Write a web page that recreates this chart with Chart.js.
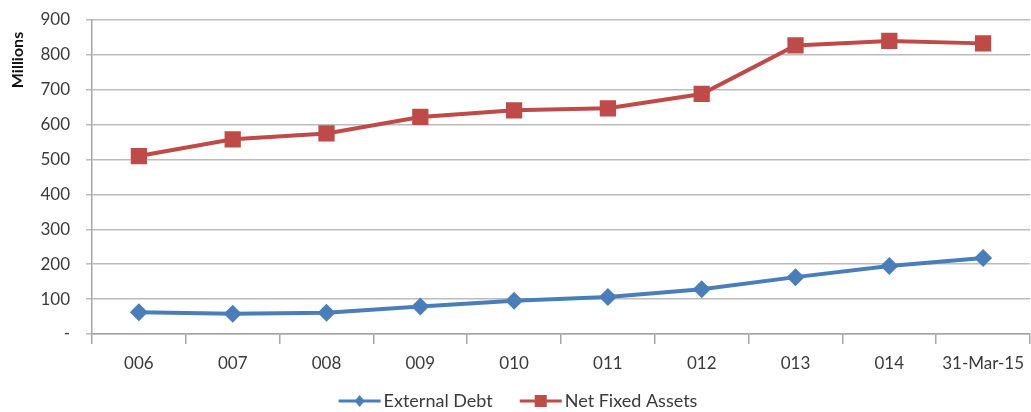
<!DOCTYPE html>
<html>
<head>
<meta charset="utf-8">
<script src="https://cdn.jsdelivr.net/npm/chart.js@4"></script>
<style>
  html, body { margin: 0; padding: 0; background: #fff; overflow: hidden; }
</style>
</head>
<body>
<canvas id="myChart" width="1031" height="412"></canvas>
<script>
const categories = ["006", "007", "008", "009", "010", "011", "012", "013", "014", "31-Mar-15"];
const externalDebt = [62, 58, 61, 79, 95, 106, 128, 163, 195, 218];
const netFixedAssets = [510, 558, 575, 622, 641, 647, 688, 827, 840, 833];
const yTicks = [0, 100, 200, 300, 400, 500, 600, 700, 800, 900];
const yTitle = "Millions";

const BLUE = "#4a7ebb";
const RED = "#be4b48";
const TEXT = "#3a3a3a";
const FONT = "Lato, 'Liberation Sans', sans-serif";

// excel-style legend under the plot + the axis title sitting at the top of the y axis
const excelDecor = {
    id: "excelDecor",
    afterDraw(chart) {
        const g = chart.ctx;
        g.save();
        g.font = "bold 16px " + FONT;
        g.fillStyle = "#111";
        g.textAlign = "center";
        g.textBaseline = "middle";
        g.translate(18, chart.chartArea.top + 40);
        g.rotate(-Math.PI / 2);
        g.fillText(yTitle, 0, 0);
        g.restore();

        const y = 401;
        const lineW = 42, gapText = 3, gapItem = 27;
        g.save();
        g.font = "18px " + FONT;
        g.textBaseline = "middle";
        const items = chart.data.datasets.map(ds => ({ ds, w: g.measureText(ds.label).width }));
        let total = items.reduce((s, it) => s + lineW + gapText + it.w, 0) + gapItem * (items.length - 1);
        let x = 518 - total / 2;
        items.forEach(({ ds, w }) => {
            g.strokeStyle = ds.borderColor;
            g.lineWidth = 3;
            g.beginPath();
            g.moveTo(x, y); g.lineTo(x + lineW, y);
            g.stroke();
            g.fillStyle = ds.borderColor;
            const cx = x + lineW / 2;
            g.beginPath();
            if (ds.pointStyle === "rectRot") {
                g.moveTo(cx, y - 6); g.lineTo(cx + 5, y); g.lineTo(cx, y + 6); g.lineTo(cx - 5, y);
            } else {
                g.rect(cx - 6, y - 6, 12, 12);
            }
            g.closePath();
            g.fill();
            g.fillStyle = TEXT;
            g.fillText(ds.label, x + lineW + gapText, y);
            x += lineW + gapText + w + gapItem;
        });
        g.restore();
    }
};

const ctx = document.getElementById("myChart").getContext("2d");
new Chart(ctx, {
    type: "line",
    plugins: [excelDecor],
    data: {
        labels: categories,
        datasets: [{
            label: "External Debt",
            data: externalDebt,
            borderColor: BLUE,
            backgroundColor: BLUE,
            borderWidth: 4,
            pointStyle: "rectRot",
            pointRadius: 9,
            pointBorderWidth: 0,
            tension: 0,
        }, {
            label: "Net Fixed Assets",
            data: netFixedAssets,
            borderColor: RED,
            backgroundColor: RED,
            borderWidth: 4,
            pointStyle: "rect",
            pointRadius: 11.5,
            pointBorderWidth: 0,
            tension: 0,
        }]
    },
    options: {
        responsive: false,
        animation: false,
        maintainAspectRatio: false,
        layout: { autoPadding: false, padding: { top: 20, right: 1, left: 0, bottom: 38 } },
        plugins: {
            tooltip: { enabled: false },
            legend: { display: false },
        },
        scales: {
            x: {
                offset: true,
                afterFit: (s) => { s.height = 40; s.paddingRight = 0; s.paddingLeft = 0; },
                grid: {
                    offset: true,
                    drawOnChartArea: false,
                    drawTicks: true,
                    tickLength: 10,
                    color: "#a6a6a6",
                    lineWidth: 1.5,
                },
                border: { display: true, color: "#a6a6a6", width: 1.5 },
                ticks: {
                    color: TEXT,
                    font: { family: FONT, size: 17 },
                    padding: 9,
                    maxRotation: 0,
                    autoSkip: false,
                },
            },
            y: {
                min: 0,
                max: 900,
                afterFit: (s) => { s.width = 92; s.paddingTop = 0; s.paddingBottom = 0; },
                afterBuildTicks: (s) => { s.ticks = yTicks.map(v => ({ value: v })); },
                grid: {
                    color: "#bcbcbc",
                    lineWidth: 1.5,
                    drawTicks: true,
                    tickLength: 6,
                },
                border: { display: true, color: "#a6a6a6", width: 1.5 },
                ticks: {
                    color: TEXT,
                    font: { family: FONT, size: 17 },
                    padding: 16,
                    callback: (v) => v === 0 ? "-" : String(v),
                },
            },
        },
    },
});
</script>
</body>
</html>
